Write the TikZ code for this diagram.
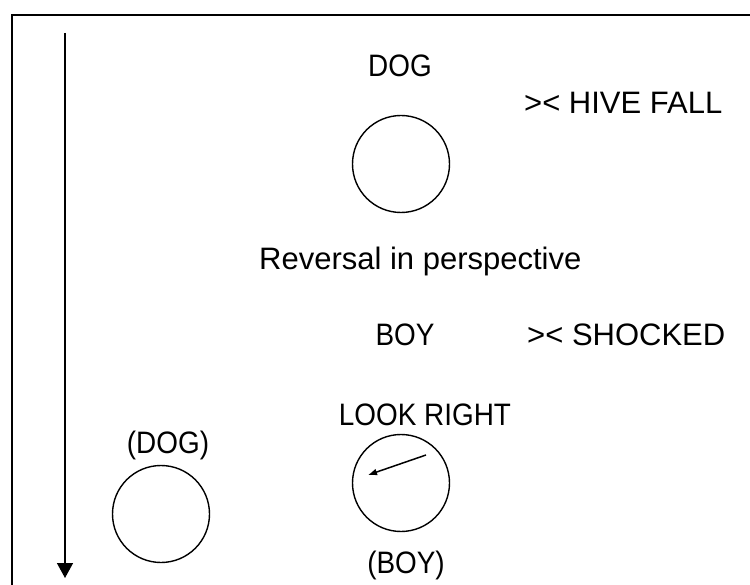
\documentclass[tikz,border=0pt]{standalone}
\usepackage{fontspec}
\setmainfont{Liberation Sans}
\newfontfamily\narrowcaps[FakeStretch=0.9]{Liberation Sans}
\usetikzlibrary{arrows.meta}

\begin{document}
\begin{tikzpicture}[x=1pt, y=-1pt, >={Triangle[width=16pt,length=15pt]},
	lbl/.style={font=\fontsize{31}{36}\selectfont, inner sep=0pt, anchor=base},
	caps/.style={lbl, font=\narrowcaps\fontsize{31}{36}\selectfont},
	face/.style={draw, circle, minimum size=97pt, inner sep=0pt, line width=1.4pt}]
	\clip (0,0) rectangle (750,585);
	\draw [line width=1.8pt] (12,15) rectangle (770,600);
	% time line
	\coordinate (timetop) at (65,33);
	\coordinate (timeend) at (65,578);
	\path [->, line width=1.6pt] (timetop) edge (timeend);
	% upper part
	\node [caps] (dog) at (400,77) {DOG};
	\node [lbl, anchor=base west] (hive) at (524,114) {>< HIVE FALL};
	\node [face] (dogface) at (401,164) {};
	\node [lbl, anchor=base west] (reversal) at (259,270) {Reversal in perspective};
	% lower part
	\node [caps] (boy) at (405,346) {BOY};
	\node [lbl, anchor=base west] (shocked) at (527,346) {>< SHOCKED};
	\node [caps] (look) at (425,425) {LOOK RIGHT};
	\node [caps] (dog2) at (168,453) {(DOG)};
	\node [face] (dogface2) at (161,514) {};
	\node [face] (boyface) at (401,483) {};
	\node [caps] (boy2) at (406,573) {(BOY)};
	\coordinate (gazefrom) at (426,455);
	\coordinate (gazeto) at (368,475);
	\path [-{Latex[length=9pt,width=7pt]}, line width=1.5pt] (gazefrom) edge (gazeto);
\end{tikzpicture}
\end{document}
